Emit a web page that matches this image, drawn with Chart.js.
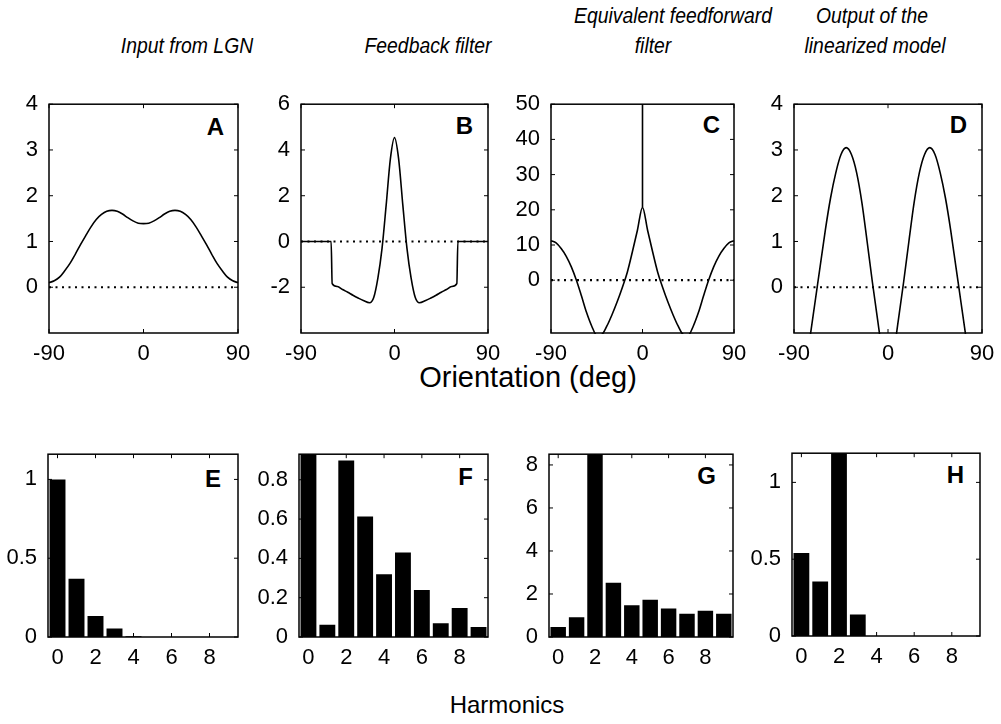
<!DOCTYPE html>
<html>
<head>
<meta charset="utf-8">
<script src="https://cdn.jsdelivr.net/npm/chart.js@4.4.1/dist/chart.umd.min.js"></script>
<style>
  body { margin: 0; background: #fff; }
  #page { position: relative; width: 1001px; height: 724px; overflow: hidden;
          font-family: "Liberation Sans", Arial, sans-serif; color: #000; background: #fff; }
  #page canvas { position: absolute; }
  .title { position: absolute; font-style: italic; font-size: 22px; white-space: nowrap;
           transform: translate(-50%, -50%) scaleX(0.88); }
  .letter { position: absolute; font-weight: bold; font-size: 24px; white-space: nowrap;
            transform: translate(-100%, -50%); }
  .axis { position: absolute; font-size: 29px; white-space: nowrap; transform: translate(-50%, -50%); }
</style>
</head>
<body>
<div id="page">
  <div class="title" style="left:187px; top:46px">Input from LGN</div>
  <div class="title" style="left:428px; top:46px">Feedback filter</div>
  <div class="title" style="left:673px; top:16px">Equivalent feedforward</div>
  <div class="title" style="left:653px; top:46px">filter</div>
  <div class="title" style="left:872px; top:16px">Output of the</div>
  <div class="title" style="left:875px; top:46px">linearized model</div>

  <div class="letter" style="left:224px; top:127px">A</div>
  <div class="letter" style="left:473px; top:126px">B</div>
  <div class="letter" style="left:720px; top:125px">C</div>
  <div class="letter" style="left:967px; top:125px">D</div>
  <div class="letter" style="left:221px; top:479px">E</div>
  <div class="letter" style="left:473px; top:477px">F</div>
  <div class="letter" style="left:716px; top:476px">G</div>
  <div class="letter" style="left:964px; top:475px">H</div>

  <div class="axis" style="left:528px; top:377px">Orientation (deg)</div>
  <div class="axis" style="left:507px; top:705px; font-size:24px">Harmonics</div>
</div>
<script>
// orientation curves (deg)
const angles = [-90, -85, -80, -75, -70, -65, -60, -55, -50, -45, -40, -35, -30, -25, -20, -15, -10, -5, 0,
                5, 10, 15, 20, 25, 30, 35, 40, 45, 50, 55, 60, 65, 70, 75, 80, 85, 90];
const inputLGN = [0.10, 0.14, 0.22, 0.36, 0.52, 0.72, 0.93, 1.13, 1.32, 1.48, 1.59, 1.66, 1.68, 1.66, 1.60, 1.52, 1.45, 1.40, 1.39,
                  1.40, 1.45, 1.52, 1.60, 1.66, 1.68, 1.66, 1.59, 1.48, 1.32, 1.13, 0.93, 0.72, 0.52, 0.36, 0.22, 0.14, 0.10];
const feedbackAngles = [-90, -61, -60, -55, -50, -45, -40, -35, -30, -24, -20, -16, -12, -8, -4, 0,
                        4, 8, 12, 16, 20, 24, 30, 35, 40, 45, 50, 55, 60, 61, 90];
const feedbackFilter = [0, 0, -1.84, -1.97, -2.1, -2.22, -2.35, -2.47, -2.58, -2.68, -2.45, -1.6, -0.3, 1.6, 3.6, 4.54,
                        3.6, 1.6, -0.3, -1.6, -2.45, -2.68, -2.58, -2.47, -2.35, -2.22, -2.1, -1.97, -1.84, 0, 0];
const feedforward = [11.2, 10.6, 9.0, 6.8, 3.8, 0.0, -4.5, -9.2, -13.0, -15.6, -15.4, -13.0, -9.8, -6.2, -2.2, 2.2, 8.0, 14.2, 20.7,
                     14.2, 8.0, 2.2, -2.2, -6.2, -9.8, -13.0, -15.4, -15.6, -13.0, -9.2, -4.5, 0.0, 3.8, 6.8, 9.0, 10.6, 11.2];
const spikeAngles = [0, 0];
const spikeValues = [20.7, 50];
const modelOutput = [-3.5, -2.8, -2.0, -1.15, -0.35, 0.45, 1.25, 1.95, 2.5, 2.9, 3.05, 2.9, 2.5, 1.85, 1.0, 0.12, -0.7, -1.5, -2.0,
                     -1.5, -0.7, 0.12, 1.0, 1.85, 2.5, 2.9, 3.05, 2.9, 2.5, 1.95, 1.25, 0.45, -0.35, -1.15, -2.0, -2.8, -3.5];

// harmonic amplitudes
const harmonics = ['0', '1', '2', '3', '4', '5', '6', '7', '8', '9'];
const harmInput = [1.0, 0.37, 0.134, 0.054, 0.005, 0, 0, 0, 0, 0];
const harmFeedback = [1.2, 0.062, 0.898, 0.613, 0.319, 0.43, 0.239, 0.07, 0.148, 0.051];
const harmFeedforward = [0.47, 0.92, 10, 2.52, 1.48, 1.73, 1.33, 1.08, 1.22, 1.08];
const harmOutput = [0.54, 0.354, 1.4, 0.14, 0, 0, 0, 0, 0, 0];

// tick labels
const angleTicks = [-90, 0, 90];
const ticksA = [0, 1, 2, 3, 4];
const ticksB = [-2, 0, 2, 4, 6];
const ticksC = [0, 10, 20, 30, 40, 50];
const ticksD = [0, 1, 2, 3, 4];
const ticksE = [0, 0.5, 1];
const ticksF = [0, 0.2, 0.4, 0.6, 0.8];
const ticksG = [0, 2, 4, 6, 8];
const ticksH = [0, 0.5, 1];

const PAD_L = 60, PAD_T = 16, PAD_R = 30, X_H = 50;
const tickFont = { family: '"Liberation Sans", Arial, sans-serif', size: 22 };
const page = document.getElementById('page');

// box round the plot, with small inward ticks like the original
const framePlugin = {
    id: 'frame',
    afterDatasetsDraw(chart) {
        const a = chart.chartArea;
        const ctx = chart.ctx;
        ctx.save();
        ctx.strokeStyle = '#000';
        ctx.lineWidth = 1;
        ctx.beginPath();
        chart.scales.x.ticks.forEach((t, i) => {
            if (chart.scales.x.type === 'category' && i % 2) return;
            const px = chart.scales.x.getPixelForTick(i);
            ctx.moveTo(px, a.bottom); ctx.lineTo(px, a.bottom - 4);
            ctx.moveTo(px, a.top); ctx.lineTo(px, a.top + 4);
        });
        chart.scales.y.ticks.forEach((t, i) => {
            const py = chart.scales.y.getPixelForTick(i);
            ctx.moveTo(a.left, py); ctx.lineTo(a.left + 4, py);
            ctx.moveTo(a.right, py); ctx.lineTo(a.right - 4, py);
        });
        ctx.stroke();
        ctx.lineWidth = 1.5;
        ctx.strokeRect(a.left, a.top, a.right - a.left, a.bottom - a.top);
        ctx.restore();
    }
};

function place(box) {
    const c = document.createElement('canvas');
    c.width = box.w + PAD_L + PAD_R;
    c.height = box.h + PAD_T + X_H;
    c.style.left = (box.x - PAD_L) + 'px';
    c.style.top = (box.y - PAD_T) + 'px';
    page.appendChild(c);
    return c;
}

function yScale(min, max, ticks) {
    return {
        min: min, max: max,
        afterBuildTicks: s => { s.ticks = ticks.map(v => ({ value: v })); },
        afterFit: s => { s.width = PAD_L; },
        grid: { display: false, drawTicks: false },
        border: { display: false },
        ticks: { font: tickFont, color: '#000', padding: 11, callback: v => String(v) }
    };
}

function baseOptions(xOpts, yOpts) {
    return {
        responsive: false,
        animation: false,
        devicePixelRatio: 1,
        layout: { padding: { left: 0, top: PAD_T, right: PAD_R, bottom: 0 } },
        plugins: { legend: { display: false }, tooltip: { enabled: false } },
        scales: { x: xOpts, y: yOpts }
    };
}

function pts(xs, ys) {
    return xs.map((x, i) => ({ x: x, y: ys[i] }));
}

function linePanel(box, curves, yMin, yMax, ticks) {
    const datasets = [{
        data: pts([-90, 90], [0, 0]),
        borderColor: '#000', borderWidth: 2.2, borderDash: [2, 4.5], pointRadius: 0
    }];
    curves.forEach(c => datasets.push({
        data: pts(c.x, c.y),
        borderColor: '#000', borderWidth: 1.6, pointRadius: 0,
        cubicInterpolationMode: c.smooth ? 'monotone' : 'default', tension: 0, clip: 1
    }));
    new Chart(place(box), {
        type: 'line',
        data: { datasets: datasets },
        options: baseOptions({
            type: 'linear', min: -90, max: 90,
            afterBuildTicks: s => { s.ticks = angleTicks.map(v => ({ value: v })); },
            afterFit: s => { s.height = X_H; },
            grid: { display: false, drawTicks: false },
            border: { display: false },
            ticks: { font: tickFont, color: '#000', padding: 8, maxRotation: 0, autoSkip: false }
        }, yScale(yMin, yMax, ticks)),
        plugins: [framePlugin]
    });
}

function barPanel(box, values, yMax, ticks) {
    new Chart(place(box), {
        type: 'bar',
        data: {
            labels: harmonics,
            datasets: [{
                data: values, backgroundColor: '#000', borderWidth: 0,
                barPercentage: 0.84, categoryPercentage: 1, clip: 0
            }]
        },
        options: baseOptions({
            type: 'category', offset: true,
            afterFit: s => { s.height = X_H; },
            grid: { display: false, drawTicks: false },
            border: { display: false },
            ticks: {
                font: tickFont, color: '#000', padding: 8, maxRotation: 0, autoSkip: false,
                callback: function (v, i) { return i % 2 ? '' : this.getLabelForValue(v); }
            }
        }, yScale(0, yMax, ticks)),
        plugins: [framePlugin]
    });
}

linePanel({ x: 49, y: 96, w: 189, h: 237 }, [{ x: angles, y: inputLGN, smooth: true }], -1, 4, ticksA);
linePanel({ x: 301, y: 96, w: 187, h: 237 }, [{ x: feedbackAngles, y: feedbackFilter, smooth: true }], -4, 6, ticksB);
linePanel({ x: 551, y: 96, w: 183, h: 237 }, [
    { x: angles, y: feedforward, smooth: true },
    { x: spikeAngles, y: spikeValues, smooth: false }
], -15, 50, ticksC);
linePanel({ x: 794, y: 96, w: 188, h: 237 }, [{ x: angles, y: modelOutput, smooth: true }], -1, 4, ticksD);

barPanel({ x: 48, y: 446, w: 190, h: 191 }, harmInput, 1.16, ticksE);
barPanel({ x: 299, y: 446, w: 189, h: 191 }, harmFeedback, 0.93, ticksF);
barPanel({ x: 549, y: 446, w: 184, h: 191 }, harmFeedforward, 8.5, ticksG);
barPanel({ x: 792, y: 445, w: 188, h: 191 }, harmOutput, 1.19, ticksH);
</script>
</body>
</html>
